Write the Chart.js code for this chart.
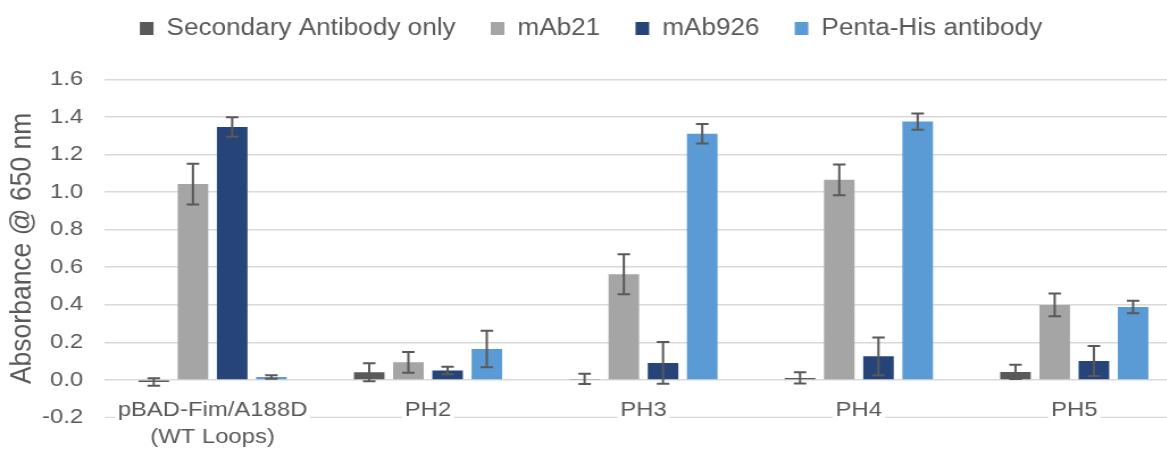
<!DOCTYPE html>
<html>
<head>
<meta charset="utf-8">
<script src="https://cdn.jsdelivr.net/npm/chart.js@4.4.1/dist/chart.umd.min.js"></script>
<style>
    html, body {
        margin: 0;
        padding: 0;
        width: 1167px;
        height: 449px;
        overflow: hidden;
        background: #fff;
    }
    /* the original picture is a bit wider than tall, so the chart is stretched sideways */
    #wrap {
        width: 1048px;
        height: 449px;
        transform: scaleX(1.136);
        transform-origin: 0 0;
    }
</style>
</head>
<body>
<div id="wrap"><canvas id="absorbance-chart"></canvas></div>
<script>
const categories = [["pBAD-Fim/A188D", "(WT Loops)"], "PH2", "PH3", "PH4", "PH5"];
const yTicks = [-0.2, 0.0, 0.2, 0.4, 0.6, 0.8, 1.0, 1.2, 1.4, 1.6];

const secondaryOnly = [-0.011, 0.040, 0.005, 0.010, 0.042];
const secondaryOnlyErr = [0.020, 0.048, 0.027, 0.030, 0.038];
const mAb21 = [1.042, 0.093, 0.562, 1.065, 0.399];
const mAb21Err = [0.108, 0.055, 0.106, 0.082, 0.060];
const mAb926 = [1.346, 0.050, 0.090, 0.125, 0.100];
const mAb926Err = [0.052, 0.020, 0.111, 0.101, 0.080];
const pentaHis = [0.015, 0.164, 1.310, 1.375, 0.388];
const pentaHisErr = [0.009, 0.097, 0.052, 0.043, 0.033];

const fontFamily = "'Liberation Sans', Arial, sans-serif";
const textColor = "#595959";
const gridColor = "#D9D9D9";
const tickSize = 21;

// error bars drawn from the dataset's "errors" array through the y scale
const errorBars = {
    id: "errorBars",
    afterDraw: (chart) => {
        const ctx = chart.ctx;
        const yScale = chart.scales.y;
        ctx.save();
        ctx.strokeStyle = "#595959";
        ctx.lineWidth = 2;
        chart.data.datasets.forEach((ds, i) => {
            const meta = chart.getDatasetMeta(i);
            meta.data.forEach((bar, j) => {
                const v = ds.data[j];
                const e = ds.errors[j];
                const top = yScale.getPixelForValue(v + e);
                const bottom = yScale.getPixelForValue(v - e);
                const half = 5.5;
                ctx.beginPath();
                ctx.moveTo(bar.x, top);
                ctx.lineTo(bar.x, bottom);
                ctx.moveTo(bar.x - half, top);
                ctx.lineTo(bar.x + half, top);
                ctx.moveTo(bar.x - half, bottom);
                ctx.lineTo(bar.x + half, bottom);
                ctx.stroke();
            });
        });
        ctx.restore();
    }
};

// bottom gridline (-0.2) with gaps where the category labels sit on it
const bottomLine = {
    id: "bottomLine",
    beforeDatasetsDraw: (chart) => {
        const { ctx, chartArea } = chart;
        const xScale = chart.scales.x;
        const yPix = chart.scales.y.getPixelForValue(yTicks[0]);
        ctx.save();
        ctx.font = `${tickSize}px ${fontFamily}`;
        const gaps = categories.map((c, i) => {
            const first = Array.isArray(c) ? c[0] : c;
            const w = ctx.measureText(first).width;
            const cx = xScale.getPixelForTick(i);
            return [cx - w / 2 - 2.5, cx + w / 2 + 2.5];
        });
        ctx.strokeStyle = gridColor;
        ctx.lineWidth = 1.4;
        ctx.beginPath();
        let start = chartArea.left;
        gaps.forEach(([a, b]) => {
            ctx.moveTo(start, yPix);
            ctx.lineTo(a, yPix);
            start = b;
        });
        ctx.moveTo(start, yPix);
        ctx.lineTo(chartArea.right, yPix);
        ctx.stroke();
        ctx.restore();
    }
};

// legend height is fixed so the plot starts where the original does
const legendHeight = {
    id: "legendHeight",
    beforeLayout: (chart) => {
        const lg = chart.legend;
        if (lg && !lg._fixed) {
            const fit = lg.fit;
            lg.fit = function () {
                fit.call(this);
                this.height = 93.3;
            };
            lg._fixed = true;
        }
    }
};

const makeDataset = (label, data, errors, color) => ({
    label,
    data,
    errors,
    backgroundColor: color,
    borderWidth: 0,
    categoryPercentage: 0.728,
    barPercentage: 0.78
});

const loadChart = () => {
    const ctx = document.getElementById("absorbance-chart").getContext("2d");

    new Chart(ctx, {
        type: "bar",
        data: {
            labels: categories,
            datasets: [
                makeDataset("Secondary Antibody only", secondaryOnly, secondaryOnlyErr, "#595959"),
                makeDataset("mAb21", mAb21, mAb21Err, "#A5A5A5"),
                makeDataset("mAb926", mAb926, mAb926Err, "#264478"),
                makeDataset("Penta-His antibody", pentaHis, pentaHisErr, "#5B9BD5")
            ]
        },
        options: {
            responsive: true,
            maintainAspectRatio: false,
            animation: false,
            layout: {
                padding: { top: -14, right: 7.5, bottom: 0, left: 0 }
            },
            plugins: {
                legend: {
                    position: "top",
                    labels: {
                        color: textColor,
                        boxWidth: 12,
                        boxHeight: 13,
                        padding: 31,
                        font: { family: fontFamily, size: 23 }
                    }
                },
                tooltip: { enabled: false }
            },
            scales: {
                y: {
                    min: -0.2,
                    max: 1.6,
                    afterFit: (scale) => { scale.width = 92.3; },
                    afterBuildTicks: (scale) => {
                        scale.ticks = yTicks.map(v => ({ value: v }));
                    },
                    border: { display: false },
                    grid: {
                        color: (c) => (c.tick && c.tick.value === yTicks[0]) ? "rgba(0,0,0,0)" : gridColor,
                        lineWidth: 1.4,
                        drawTicks: false
                    },
                    ticks: {
                        color: textColor,
                        padding: 19,
                        font: { family: fontFamily, size: tickSize },
                        callback: (v) => Number(v).toFixed(1)
                    },
                    title: {
                        display: true,
                        text: "Absorbance @ 650 nm",
                        color: textColor,
                        padding: { top: 4.2, bottom: 0 },
                        font: { family: fontFamily, size: 26.5 }
                    }
                },
                x: {
                    afterFit: (scale) => {
                        scale.height = 31.4;
                        // labels sit on the bottom gridline, so they must not be clipped to the axis box
                        scale._computeLabelArea = () => undefined;
                    },
                    border: { display: false },
                    grid: { display: false, drawTicks: false },
                    ticks: {
                        color: textColor,
                        padding: -21,
                        maxRotation: 0,
                        autoSkip: false,
                        font: { family: fontFamily, size: tickSize, lineHeight: 1.3 }
                    }
                }
            }
        },
        plugins: [bottomLine, errorBars, legendHeight]
    });
}

window.onload = () => loadChart();
</script>
</body>
</html>
